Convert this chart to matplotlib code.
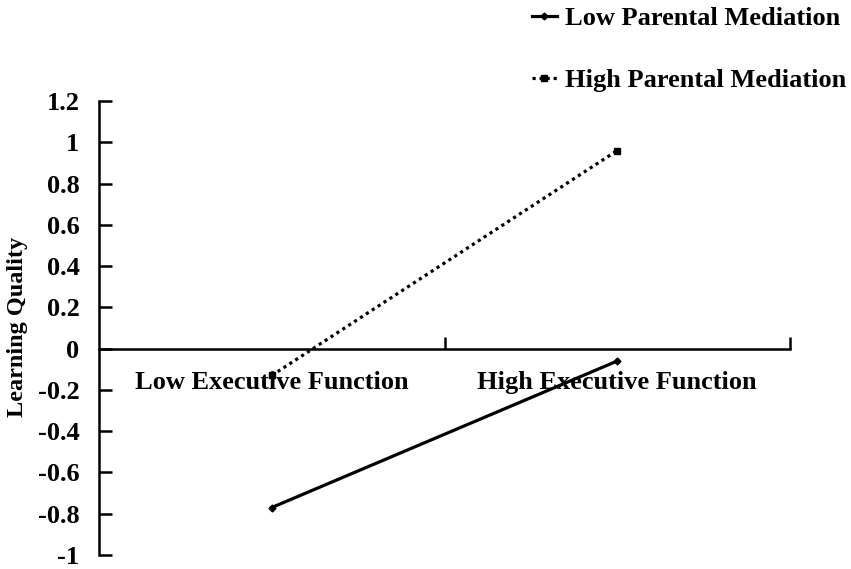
import numpy as np
import matplotlib
matplotlib.use("Agg")
import matplotlib.pyplot as plt

plt.rcParams['font.family'] = ['Liberation Serif', 'DejaVu Serif']
plt.rcParams['font.weight'] = 'bold'

categories = ["Low Executive Function", "High Executive Function"]
low_pm = [-0.77, -0.06]   # Low Parental Mediation
high_pm = [-0.13, 0.96]   # High Parental Mediation
yticks = [-1, -0.8, -0.6, -0.4, -0.2, 0, 0.2, 0.4, 0.6, 0.8, 1, 1.2]
ytick_labels = ["-1", "-0.8", "-0.6", "-0.4", "-0.2", "0", "0.2", "0.4", "0.6", "0.8", "1", "1.2"]

fig = plt.figure(figsize=(8.51, 5.69), dpi=100)
ax = fig.add_axes([99/851, 1-555/569, (790-99)/851, (555-101)/569])

x = np.arange(len(categories)) + 0.5
ax.plot(x, low_pm, color='black', lw=2.3, marker='D', ms=3.5, label="Low Parental Mediation")
ax.plot(x, high_pm, color='black', lw=2.3, ls=(0, (1, 1.2)), marker='s', ms=4.5,
        label="High Parental Mediation")

ax.set_xlim(0, 2)
ax.set_ylim(-1, 1.2)
ax.set_yticks(yticks)
ax.set_yticklabels(ytick_labels, fontsize=19, fontweight='bold')
ax.set_xticks([1, 2])
ax.set_xticklabels([])

ax.spines['top'].set_visible(False)
ax.spines['right'].set_visible(False)
ax.spines['bottom'].set_position(('data', 0))
ax.spines['left'].set_linewidth(1.8)
ax.spines['bottom'].set_linewidth(1.8)
ax.tick_params(axis='y', direction='in', length=9, width=1.8, pad=14)
ax.tick_params(axis='x', direction='in', length=9, width=1.8)

for xi, c in zip(x, categories):
    ax.text(xi, -0.165, c, ha='center', va='center', fontsize=19, fontweight='bold')

fig.text(18/851, 1-327/569, "Learning Quality", rotation=90, ha='center', va='center',
         fontsize=17.5, fontweight='bold')

fig.legend(loc='upper left', bbox_to_anchor=(508/851, 1.03), frameon=False,
           prop={'size': 19, 'weight': 'bold'}, handlelength=0.95, labelspacing=1.45,
           handletextpad=0.3)

fig.savefig("out.png", dpi=100)
